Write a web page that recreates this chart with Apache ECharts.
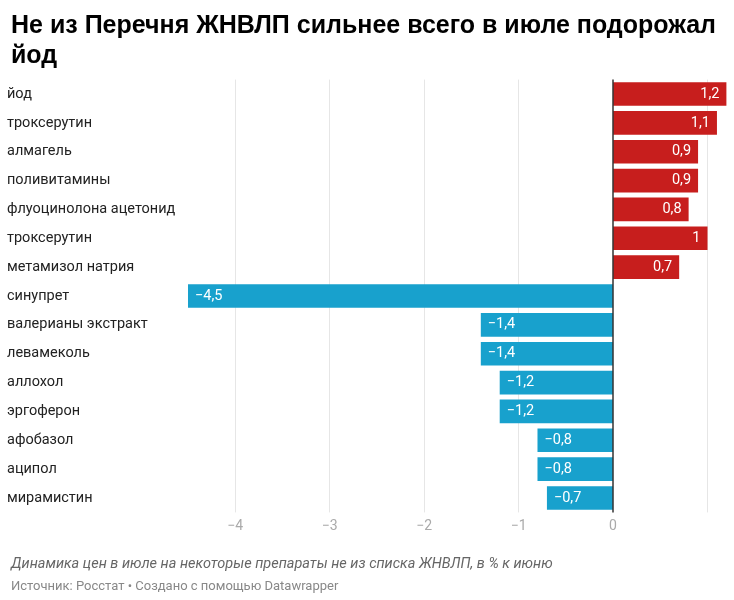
<!DOCTYPE html>
<html><head><meta charset="utf-8">
<script src="https://cdn.jsdelivr.net/npm/echarts@6/dist/echarts.min.js"></script>
<style>html,body{margin:0;padding:0;background:#fff}#c{width:734px;height:600px}</style>
</head><body><div id="c"></div>
<script>
const categories = ["йод","троксерутин","алмагель","поливитамины","флуоцинолона ацетонид","троксерутин ","метамизол натрия","синупрет","валерианы экстракт","левамеколь","аллохол","эргоферон","афобазол","аципол","мирамистин"];
const values = [1.2,1.1,0.9,0.9,0.8,1,0.7,-4.5,-1.4,-1.4,-1.2,-1.2,-0.8,-0.8,-0.7];
const tickValues = [-4,-3,-2,-1,0,1];
const RED = '#c71e1d', BLUE = '#18a1cd';
const fmt = v => (v < 0 ? '\u2212' : '') + String(Math.abs(v)).replace('.', ',');
const chart = echarts.init(document.getElementById('c'));
chart.setOption({
  animation:false,
  title:[
    {text:'Не из Перечня ЖНВЛП сильнее всего в июле подорожал\nйод', left:6, top:6,
     textStyle:{fontFamily:'Liberation Sans', fontWeight:'bold', fontSize:25, lineHeight:30, color:'#000'}},
    {text:'Динамика цен в июле на некоторые препараты не из списка ЖНВЛП, в % к июню', left:6, top:552,
     textStyle:{fontFamily:'Roboto', fontStyle:'italic', fontWeight:'normal', fontSize:14.5, color:'#666'}},
    {text:'Источник: Росстат • Создано с помощью Datawrapper', left:6, top:575,
     textStyle:{fontFamily:'Roboto', fontWeight:'normal', fontSize:13, color:'#888'}}
  ],
  grid:{left:188, right:7.6, top:79.6, bottom:87.6},
  xAxis:{type:'value', min:-4.5, max:1.2, interval:0.5,
    axisLine:{show:false}, axisTick:{show:false}, splitLine:{show:false},
    axisLabel:{fontFamily:'Roboto', fontSize:14, color:'#aaa', margin:7, showMaxLabel:false,
      customValues: tickValues, formatter:v => fmt(v)}},
  yAxis:{type:'category', data:categories, inverse:true,
    axisLine:{show:false}, axisTick:{show:false},
    axisLabel:{align:'left', margin:181, fontFamily:'Roboto', fontSize:14.5, color:'#222',
      formatter:v => v.trim()}},
  series:[
   {type:'bar', barCategoryGap:'18%', z:2,
    data: values.map(v => ({value:v, itemStyle:{color: v >= 0 ? RED : BLUE},
      label:{position: v >= 0 ? 'insideRight' : 'insideLeft'}})),
    label:{show:true, color:'#fff', fontFamily:'Roboto', fontSize:14.5, distance:7,
      formatter:p => fmt(p.value)},
    markLine:{silent:true, symbol:'none', label:{show:false}, z:3,
      lineStyle:{color:'#333', width:1.5, type:'solid'}, data:[{xAxis:0}]}
   },
   {type:'line', data:[], z:1,
    markLine:{silent:true, symbol:'none', label:{show:false}, z:1,
      lineStyle:{color:'#e6e6e6', width:1, type:'solid'},
      data: tickValues.filter(v => v !== 0).map(v => ({xAxis:v}))}
   }
  ]
});
</script></body></html>
